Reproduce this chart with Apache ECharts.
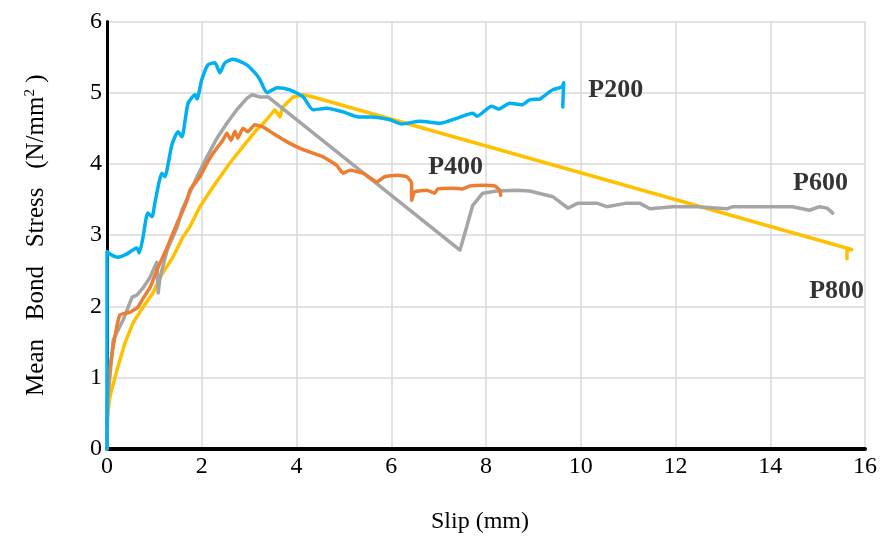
<!DOCTYPE html>
<html>
<head>
<meta charset="utf-8">
<script src="https://cdn.jsdelivr.net/npm/echarts@6/dist/echarts.min.js"></script>
<style>html,body{margin:0;padding:0;background:#fff;}#c{width:883px;height:541px;}</style>
</head>
<body>
<div id="c"></div>
<script>
// Slip (mm), Mean bond stress (N/mm2) pairs
const p200 = [[0,0],[0,2.77],[0.1,2.72],[0.23,2.69],[0.4,2.73],[0.63,2.82],[0.68,2.75],[0.76,2.97],[0.86,3.31],[0.95,3.26],[1.01,3.45],[1.16,3.87],[1.22,3.82],[1.37,4.27],[1.50,4.45],[1.58,4.38],[1.71,4.85],[1.86,4.97],[1.90,4.91],[2.00,5.18],[2.13,5.39],[2.28,5.42],[2.38,5.28],[2.49,5.42],[2.66,5.47],[2.95,5.39],[3.16,5.25],[3.23,5.18],[3.38,5.00],[3.59,5.07],[3.86,5.04],[4.14,4.94],[4.35,4.76],[4.64,4.78],[4.98,4.73],[5.30,4.66],[5.59,4.66],[5.97,4.62],[6.22,4.56],[6.60,4.60],[7.03,4.57],[7.38,4.64],[7.72,4.71],[7.81,4.67],[8.12,4.81],[8.27,4.77],[8.50,4.85],[8.76,4.83],[8.92,4.90],[9.14,4.91],[9.20,4.94],[9.41,5.04],[9.60,5.08],[9.64,5.14],[9.62,4.80]];
const p400 = [[0,0],[0,0.22],[0.02,0.87],[0.13,1.43],[0.27,1.88],[0.49,1.92],[0.65,1.99],[0.74,2.09],[0.91,2.27],[1.08,2.55],[1.27,2.83],[1.48,3.17],[1.58,3.31],[1.69,3.49],[1.75,3.63],[1.96,3.82],[2.11,4.01],[2.24,4.15],[2.34,4.24],[2.45,4.34],[2.53,4.43],[2.62,4.33],[2.70,4.46],[2.76,4.36],[2.87,4.50],[2.97,4.45],[3.12,4.55],[3.29,4.52],[3.50,4.43],[3.80,4.31],[4.14,4.20],[4.56,4.10],[4.85,3.98],[4.98,3.87],[5.13,3.91],[5.40,3.87],[5.70,3.75],[5.86,3.82],[6.12,3.84],[6.33,3.82],[6.43,3.73],[6.43,3.49],[6.50,3.61],[6.75,3.63],[6.92,3.59],[6.98,3.65],[7.30,3.66],[7.49,3.65],[7.66,3.69],[7.93,3.70],[8.19,3.69],[8.29,3.63],[8.31,3.56]];
const p600 = [[0,0],[0.02,0.7],[0.13,1.53],[0.34,1.81],[0.53,2.13],[0.63,2.16],[0.76,2.26],[0.91,2.41],[1.05,2.62],[1.08,2.19],[1.12,2.41],[1.27,2.79],[1.48,3.11],[1.58,3.35],[1.90,3.82],[2.11,4.10],[2.32,4.36],[2.53,4.57],[2.74,4.76],[2.95,4.92],[3.06,4.97],[3.23,4.94],[3.40,4.94],[7.45,2.79],[7.59,3.11],[7.72,3.42],[7.93,3.59],[8.23,3.62],[8.65,3.63],[8.92,3.62],[9.41,3.54],[9.73,3.38],[9.94,3.45],[10.34,3.45],[10.55,3.40],[10.97,3.45],[11.24,3.45],[11.46,3.37],[11.94,3.40],[12.45,3.40],[13.08,3.37],[13.21,3.40],[13.84,3.40],[14.47,3.40],[14.83,3.35],[15.04,3.40],[15.20,3.38],[15.32,3.31]];
const p800 = [[0,0],[0,0.41],[0.06,0.73],[0.21,1.11],[0.38,1.49],[0.55,1.77],[0.76,1.99],[0.97,2.19],[1.15,2.44],[1.39,2.69],[1.60,2.97],[1.75,3.12],[1.96,3.40],[2.24,3.68],[2.59,4.01],[2.95,4.31],[3.16,4.48],[3.37,4.62],[3.54,4.76],[3.65,4.66],[3.71,4.80],[3.93,4.94],[4.14,4.97],[4.35,4.94],[15.72,2.80],[15.62,2.79],[15.62,2.67]];
const seriesNames = ['P200','P400','P600','P800'];
const seriesColors = ['#00B0F0','#ED7D31','#A5A5A5','#FFC000'];
const labelPositions = [[10.74,5.03],[7.36,3.95],[15.06,3.73],[15.40,2.22]];
const xTicks = [0,2,4,6,8,10,12,14,16];
const yTicks = [0,1,2,3,4,5,6];

const font = 'Liberation Serif';
const chart = echarts.init(document.getElementById('c'), null, {renderer:'canvas'});
const datasets = [p200,p400,p600,p800];
const smoothing = [0.2,0.15,0,0];
const series = datasets.map((d,i)=>({
  name: seriesNames[i], type:'line', data:d, showSymbol:false, symbol:'none',
  smooth: smoothing[i],
  lineStyle:{color:seriesColors[i], width:3.5, join:'round', cap:'round'},
  z: 5 - i, animation:false
}));
series.push({
  type:'scatter', symbolSize:0, silent:true, animation:false, z:10,
  data: labelPositions.map((p,i)=>({value:p, name:seriesNames[i]})),
  label:{show:true, position:'inside', formatter:p=>p.name, fontFamily:font, fontWeight:'bold', fontSize:26, color:'#000'}
});
chart.setOption({
  backgroundColor:'#fff',
  animation:false,
  grid:{left:107, right:18, top:21.4, bottom:92, containLabel:false},
  xAxis:{type:'value', min:xTicks[0], max:xTicks[xTicks.length-1], interval:2,
    name:'Slip (mm)', nameLocation:'middle', nameGap:61,
    nameTextStyle:{fontFamily:font, fontSize:24, color:'#000', padding:[0,12,0,0]},
    axisLine:{show:true, onZero:false, lineStyle:{color:'#000', width:4}},
    axisTick:{show:false},
    axisLabel:{fontFamily:font, fontSize:24, color:'#000', margin:6},
    splitLine:{show:true, lineStyle:{color:'#D9D9D9', width:1.5}}
  },
  yAxis:{type:'value', min:yTicks[0], max:yTicks[yTicks.length-1], interval:1,
    name:'Mean   Bond   Stress   (N/mm{sup|2} )', nameLocation:'middle', nameGap:58,
    nameTextStyle:{fontFamily:font, fontSize:25, color:'#000',
      rich:{sup:{fontFamily:font, fontSize:15, color:'#000', verticalAlign:'top', padding:[0,0,11,0]}}},
    axisLine:{show:true, onZero:false, lineStyle:{color:'#000', width:3}},
    axisTick:{show:false},
    axisLabel:{fontFamily:font, fontSize:24, color:'#000', margin:5},
    splitLine:{show:true, lineStyle:{color:'#D9D9D9', width:1.5}}
  },
  series: series
});
</script>
</body>
</html>
